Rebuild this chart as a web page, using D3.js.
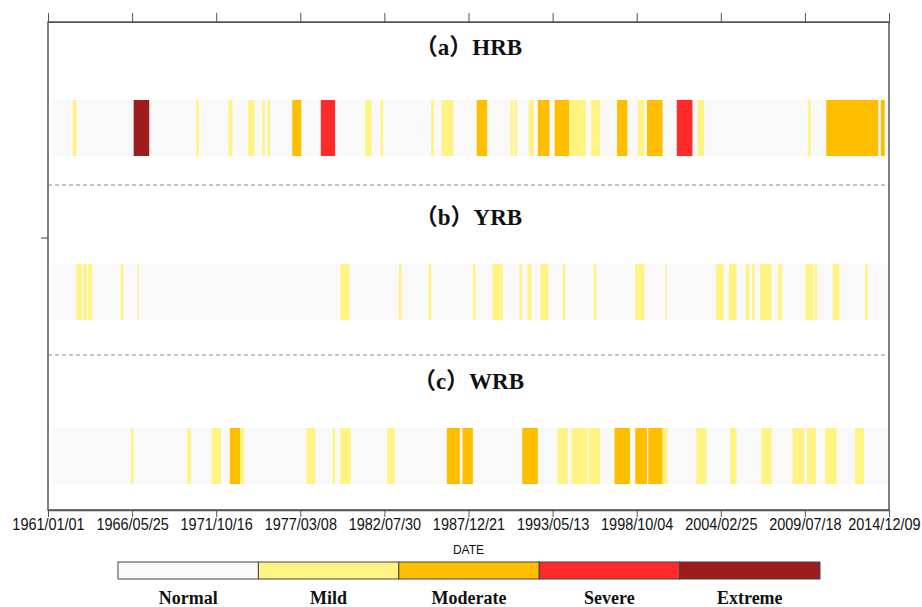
<!DOCTYPE html>
<html>
<head>
<meta charset="utf-8">
<title>Drought events HRB / YRB / WRB</title>
<script src="https://d3js.org/d3.v7.min.js"></script>
<style>
  body { margin: 0; background: #fff; }
  svg { display: block; }
</style>
</head>
<body>
<div id="chart"></div>
<script>
// ---- data ----
var basins = ["HRB", "YRB", "WRB"];
var titles = ["（a）HRB", "（b）YRB", "（c）WRB"];
var levels = ["Normal", "Mild", "Moderate", "Severe", "Extreme"];
var levelColors = ["#f9f9f9", "#fff383", "#ffbf00", "#ff2a2a", "#9e1c1c"];
var tickDates = ["1961/01/01", "1966/05/25", "1971/10/16", "1977/03/08", "1982/07/30",
  "1987/12/21", "1993/05/13", "1998/10/04", "2004/02/25", "2009/07/18", "2014/12/09"];
var seriesStart = "1961-04", seriesEnd = "2014-11";

// drought spells: [first month, number of months, level]
var hrbEvents = [
  ["1962-08", 3, "Mild"], ["1966-07", 12, "Extreme"], ["1970-07", 2, "Mild"],
  ["1972-08", 3, "Mild"], ["1973-11", 5, "Mild"], ["1974-10", 2, "Mild"],
  ["1975-02", 2, "Mild"], ["1976-09", 7, "Moderate"], ["1978-07", 11, "Severe"],
  ["1981-05", 5, "Mild"], ["1982-05", 2, "Mild"], ["1985-08", 2, "Mild"],
  ["1986-04", 9, "Mild"], ["1988-07", 8, "Moderate"], ["1990-09", 2, "Mild"],
  ["1990-12", 2, "Mild"], ["1991-11", 4, "Mild"], ["1992-06", 9, "Moderate"],
  ["1993-07", 11, "Moderate"], ["1994-06", 13, "Mild"], ["1995-11", 7, "Mild"],
  ["1997-07", 8, "Moderate"], ["1998-11", 5, "Mild"], ["1999-06", 12, "Moderate"],
  ["2001-05", 12, "Severe"], ["2002-09", 5, "Mild"], ["2009-10", 2, "Mild"],
  ["2010-12", 40, "Moderate"], ["2014-06", 3, "Moderate"]
];
var yrbEvents = [
  ["1962-11", 4, "Mild"], ["1963-04", 3, "Mild"], ["1963-08", 3, "Mild"],
  ["1965-09", 2, "Mild"], ["1966-10", 1, "Mild"], ["1979-10", 7, "Mild"],
  ["1983-07", 2, "Mild"], ["1985-06", 2, "Mild"], ["1988-04", 2, "Mild"],
  ["1989-07", 8, "Mild"], ["1991-04", 2, "Mild"], ["1991-10", 3, "Mild"],
  ["1992-08", 6, "Mild"], ["1994-01", 2, "Mild"], ["1996-01", 2, "Mild"],
  ["1998-09", 7, "Mild"], ["2000-08", 1, "Mild"], ["2003-11", 6, "Mild"],
  ["2004-09", 6, "Mild"], ["2005-10", 3, "Mild"], ["2006-03", 2, "Mild"],
  ["2006-09", 7, "Mild"], ["2007-04", 2, "Mild"], ["2007-11", 3, "Mild"],
  ["2009-08", 6, "Mild"], ["2010-03", 2, "Mild"], ["2011-05", 4, "Mild"],
  ["2011-09", 1, "Mild"], ["2013-06", 2, "Mild"]
];
var wrbEvents = [
  ["1966-05", 2, "Mild"], ["1969-12", 3, "Mild"], ["1971-07", 7, "Mild"],
  ["1972-09", 8, "Moderate"], ["1973-05", 3, "Mild"], ["1977-08", 7, "Mild"],
  ["1979-04", 2, "Mild"], ["1979-10", 8, "Mild"], ["1982-10", 6, "Mild"],
  ["1986-08", 10, "Moderate"], ["1987-08", 8, "Moderate"], ["1991-06", 12, "Moderate"],
  ["1993-09", 8, "Mild"], ["1994-08", 12, "Mild"], ["1995-09", 9, "Mild"],
  ["1997-05", 12, "Moderate"], ["1998-09", 9, "Moderate"], ["1999-07", 11, "Moderate"],
  ["2000-06", 4, "Mild"], ["2002-08", 8, "Mild"], ["2004-10", 5, "Mild"],
  ["2006-10", 8, "Mild"], ["2008-10", 9, "Mild"], ["2009-09", 7, "Mild"],
  ["2010-11", 9, "Mild"], ["2012-10", 7, "Mild"]
];
var events = { HRB: hrbEvents, YRB: yrbEvents, WRB: wrbEvents };

// ---- layout ----
var W = 922, H = 607;
var frame = { left: 48, right: 889, top: 22, bottom: 510 };
var stripH = 56;
var titleOffset = [-50, -44, -44];   // title centre above each strip
var separatorY = [185, 355];
var squeeze = 0.85;                  // condensed tick labels

var parseTick = d3.timeParse("%Y/%m/%d");
var parseMonth = d3.timeParse("%Y-%m");
var fmtTick = d3.timeFormat("%Y/%m/%d");
var ticks = tickDates.map(parseTick);

var x = d3.scaleTime()
  .domain([ticks[0], ticks[ticks.length - 1]])
  .range([frame.left, frame.right]);

var y = d3.scalePoint()
  .domain(basins)
  .range([100, 428]);

var color = d3.scaleOrdinal().domain(levels).range(levelColors);

var svg = d3.select("#chart").append("svg")
  .attr("width", W)
  .attr("height", H);

// background strips (normal)
svg.append("g").selectAll("rect")
  .data(basins)
  .enter().append("rect")
  .attr("x", x(parseMonth(seriesStart)))
  .attr("width", x(d3.timeMonth.offset(parseMonth(seriesEnd), 1)) - x(parseMonth(seriesStart)))
  .attr("y", function (d) { return y(d); })
  .attr("height", stripH)
  .attr("fill", color("Normal"));

// drought spells
basins.forEach(function (b) {
  svg.append("g").selectAll("rect")
    .data(events[b])
    .enter().append("rect")
    .attr("x", function (d) { return x(parseMonth(d[0])); })
    .attr("width", function (d) {
      var s = parseMonth(d[0]);
      return x(d3.timeMonth.offset(s, d[1])) - x(s);
    })
    .attr("y", y(b))
    .attr("height", stripH)
    .attr("fill", function (d) { return color(d[2]); });
});

// panel titles
svg.append("g").selectAll("text")
  .data(basins)
  .enter().append("text")
  .attr("x", (frame.left + frame.right) / 2)
  .attr("y", function (d, i) { return y(d) + titleOffset[i]; })
  .attr("text-anchor", "middle")
  .attr("dominant-baseline", "middle")
  .style("font-family", "'Liberation Serif', 'Noto Sans CJK SC', serif")
  .style("font-weight", "bold")
  .style("font-size", "23px")
  .attr("fill", "#111")
  .text(function (d, i) { return titles[i]; });

// dashed separators
svg.append("g").selectAll("line")
  .data(separatorY)
  .enter().append("line")
  .attr("x1", frame.left).attr("x2", frame.right)
  .attr("y1", function (d) { return d; })
  .attr("y2", function (d) { return d; })
  .attr("stroke", "#8a8a8a")
  .attr("stroke-width", 1)
  .attr("stroke-dasharray", "4,3");

// frame
svg.append("rect")
  .attr("x", frame.left).attr("y", frame.top)
  .attr("width", frame.right - frame.left)
  .attr("height", frame.bottom - frame.top)
  .attr("fill", "none")
  .attr("stroke", "#555")
  .attr("stroke-width", 1.5);

// bottom axis
var xAxis = d3.axisBottom(x).tickValues(ticks).tickFormat(fmtTick).tickSize(7).tickSizeOuter(0);
var gx = svg.append("g")
  .attr("transform", "translate(0," + frame.bottom + ")")
  .call(xAxis);
gx.select(".domain").attr("stroke", "#555").attr("stroke-width", 1.5);
gx.selectAll(".tick line").attr("stroke", "#555");
gx.selectAll(".tick text")
  .attr("fill", "#111")
  .attr("x", 0)
  .attr("y", 16)
  .attr("dy", 0)
  .attr("dominant-baseline", "middle")
  .attr("transform", "scale(" + squeeze + ",1)")
  .style("font-family", "'Liberation Sans', 'DejaVu Sans', sans-serif")
  .style("font-size", "17px");
// keep the last label inside the page
gx.selectAll(".tick text").filter(function (d, i) { return i === ticks.length - 1; })
  .attr("text-anchor", "end")
  .attr("x", 31 / squeeze);

// top axis (ticks only)
var gt = svg.append("g")
  .attr("transform", "translate(0," + frame.top + ")")
  .call(d3.axisTop(x).tickValues(ticks).tickFormat("").tickSize(9).tickSizeOuter(0));
gt.select(".domain").attr("stroke", "#555");
gt.selectAll(".tick line").attr("stroke", "#555");

// left tick
svg.append("line")
  .attr("x1", frame.left - 7).attr("x2", frame.left)
  .attr("y1", 238).attr("y2", 238)
  .attr("stroke", "#555").attr("stroke-width", 1.2);

// x title
svg.append("text")
  .attr("x", (frame.left + frame.right) / 2)
  .attr("y", 551)
  .attr("text-anchor", "middle")
  .attr("dominant-baseline", "middle")
  .style("font-family", "'Liberation Sans', sans-serif")
  .style("font-size", "12px")
  .attr("fill", "#111")
  .text("DATE");

// legend
var lg = d3.scaleBand().domain(levels).range([118, 820]).padding(0);
var legend = svg.append("g");
legend.selectAll("rect")
  .data(levels)
  .enter().append("rect")
  .attr("x", function (d) { return lg(d); })
  .attr("y", 562)
  .attr("width", lg.bandwidth())
  .attr("height", 17)
  .attr("fill", function (d) { return color(d); })
  .attr("stroke", "#444")
  .attr("stroke-width", 1);
legend.selectAll("text")
  .data(levels)
  .enter().append("text")
  .attr("x", function (d) { return lg(d) + lg.bandwidth() / 2; })
  .attr("y", 600)
  .attr("text-anchor", "middle")
  .attr("dominant-baseline", "middle")
  .style("font-family", "'Liberation Serif', serif")
  .style("font-weight", "bold")
  .style("font-size", "18px")
  .attr("fill", "#111")
  .text(function (d) { return d; });
</script>
</body>
</html>
